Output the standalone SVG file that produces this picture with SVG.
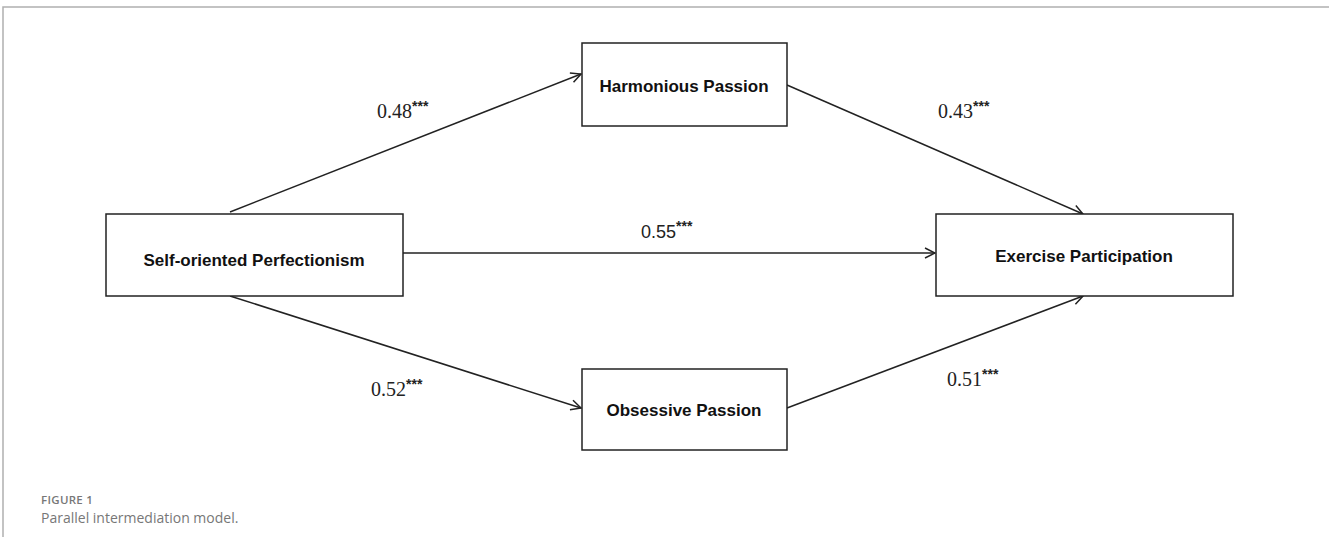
<svg xmlns="http://www.w3.org/2000/svg" width="1329" height="537" viewBox="0 0 1329 537">
<defs>
<style>
.box{fill:#fff;stroke:#222;stroke-width:1.5}
.lbl{font-family:"Liberation Sans",Arial,sans-serif;font-weight:bold;font-size:17px;fill:#111;text-anchor:middle}
.coef{font-family:"Liberation Serif","DejaVu Serif",serif;font-size:20px;fill:#222}
.coefs{font-family:"Liberation Sans",Arial,sans-serif;font-size:18px;fill:#222}
.star{font-family:"Liberation Sans",Arial,sans-serif;font-size:14px;font-weight:bold}
.edge{stroke:#222;stroke-width:1.5;fill:none;marker-end:url(#arr)}
.frame{stroke:#b0b0b0;stroke-width:1.5;fill:none}
</style>
<marker id="arr" viewBox="0 0 12 12" refX="11" refY="6" markerWidth="12" markerHeight="12" markerUnits="userSpaceOnUse" orient="auto">
<path d="M1,1 L11,6 L1,11" fill="none" stroke="#222" stroke-width="1.5"/>
</marker>
</defs>
<rect width="1329" height="537" fill="#fff"/>
<path class="frame" d="M3,537 L3,7 L1329,7"/>
<g id="connectors">
<line class="edge" x1="230" y1="212" x2="581" y2="74"/>
<line class="edge" x1="787" y1="85" x2="1083" y2="214"/>
<line class="edge" x1="403" y1="253" x2="935" y2="253"/>
<line class="edge" x1="230" y1="296" x2="581" y2="408"/>
<line class="edge" x1="787" y1="408" x2="1083" y2="296"/>
</g>
<g id="labels">
<text class="coef" x="377" y="118">0.48<tspan class="star" dy="-7">***</tspan></text>
<text class="coef" x="938" y="118">0.43<tspan class="star" dy="-7">***</tspan></text>
<text class="coefs" x="641" y="238">0.55<tspan class="star" dy="-7">***</tspan></text>
<text class="coef" x="371" y="396">0.52<tspan class="star" dy="-7">***</tspan></text>
<text class="coef" x="947" y="386">0.51<tspan class="star" dy="-7">***</tspan></text>
</g>
<g id="node-hp">
<rect class="box" x="582" y="43" width="205" height="83"/>
<text class="lbl" x="684" y="92">Harmonious Passion</text>
</g>
<g id="node-sop">
<rect class="box" x="106" y="214" width="297" height="82"/>
<text class="lbl" x="254" y="266">Self-oriented Perfectionism</text>
</g>
<g id="node-ep">
<rect class="box" x="936" y="214" width="297" height="82"/>
<text class="lbl" x="1084" y="262">Exercise Participation</text>
</g>
<g id="node-op">
<rect class="box" x="582" y="369" width="205" height="81"/>
<text class="lbl" x="684" y="416">Obsessive Passion</text>
</g>
<g id="caption">
<text x="41" y="504" font-family="'Open Sans',sans-serif" font-size="11.5" font-weight="600" fill="#777" letter-spacing="0.3">FIGURE 1</text>
<text x="41" y="523" font-family="'Open Sans',sans-serif" font-size="14" fill="#777">Parallel intermediation model.</text>
</g>
</svg>
